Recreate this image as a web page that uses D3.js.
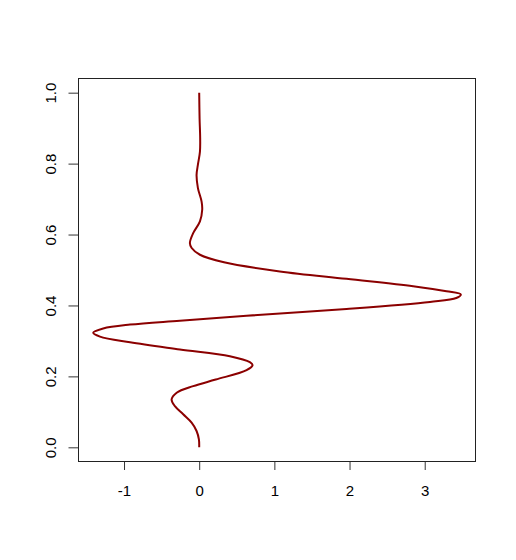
<!DOCTYPE html>
<html>
<head>
<meta charset="utf-8">
<script src="https://cdn.jsdelivr.net/npm/d3@7"></script>
<style>
  body { margin: 0; background: #fff; }
</style>
</head>
<body>
<div id="chart"></div>
<script>
// curve: x as a function of y
let yVals = [0, 0.0225, 0.046, 0.0695, 0.093, 0.116, 0.135, 0.154, 0.1725, 0.191, 0.2176,
             0.2317, 0.240, 0.257, 0.276, 0.296, 0.312, 0.323, 0.335, 0.346, 0.357,
             0.371, 0.390, 0.410, 0.421, 0.431, 0.440, 0.454, 0.475, 0.496, 0.522,
             0.543, 0.562, 0.576, 0.604, 0.637, 0.670, 0.693, 0.731, 0.768, 0.797,
             0.834, 0.872, 0.928, 1.0];
let xVals = [0, -0.004, -0.035, -0.101, -0.213, -0.323, -0.367, -0.30, -0.08, 0.22, 0.63,
             0.71, 0.674, 0.408, -0.257, -0.92, -1.32, -1.41, -1.277, -0.92, -0.257,
             0.63, 1.96, 3.07, 3.42, 3.48, 3.29, 2.846, 1.96, 1.073, 0.33,
             0.01, -0.10, -0.124, -0.08, 0.01, 0.040, 0.032, -0.017, -0.035, -0.017,
             0.01, 0.013, 0.005, 0];

let xTicks = [-1, 0, 1, 2, 3];
let yTicks = [0, 0.2, 0.4, 0.6, 0.8, 1.0];

let data = yVals.map(function (y, i) { return { x: xVals[i], y: y }; });

// plot region (names avoid window.top)
var width = 516, height = 560;
var plotL = 78.5, plotR = 475.5, plotT = 78.5, plotB = 461.5;
var labelFont = "'Liberation Sans', Arial, sans-serif";

var svg = d3.select("#chart")
    .append("svg")
    .attr("width", width)
    .attr("height", height);

// R style 4% padding around the data range
var xr = d3.extent(xVals), yr = d3.extent(yVals);
var xp = (xr[1] - xr[0]) * 0.04, yp = (yr[1] - yr[0]) * 0.04;

var x = d3.scaleLinear()
    .domain([xr[0] - xp, xr[1] + xp])
    .range([plotL, plotR]);

var y = d3.scaleLinear()
    .domain([yr[0] - yp, yr[1] + yp])
    .range([plotB, plotT]);

// X axis
var gx = svg.append("g")
    .attr("transform", "translate(0," + plotB + ")")
    .call(d3.axisBottom(x).tickValues(xTicks).tickSize(8.5).tickSizeOuter(0)
        .tickFormat(function (d) { return String(d); }))
    .attr("font-size", 15)
    .attr("font-family", labelFont);
gx.select(".domain")
    .attr("d", "M" + x(xTicks[0]) + ",0H" + x(xTicks[xTicks.length - 1]));
gx.selectAll("text")
    .attr("y", 29)
    .attr("dy", "0.35em")
    .attr("fill", "#000");

// Y axis, labels rotated like base R
var gy = svg.append("g")
    .attr("transform", "translate(" + plotL + ",0)")
    .call(d3.axisLeft(y).tickValues(yTicks).tickSize(10).tickSizeOuter(0)
        .tickFormat(function (d) { return d.toFixed(1); }))
    .attr("font-size", 15)
    .attr("font-family", labelFont);
gy.select(".domain")
    .attr("d", "M0," + y(yTicks[0]) + "V" + y(yTicks[yTicks.length - 1]));
gy.selectAll("text")
    .attr("transform", "rotate(-90)")
    .attr("x", 0)
    .attr("y", -28)
    .attr("dy", "0.35em")
    .attr("text-anchor", "middle")
    .attr("fill", "#000");

svg.selectAll(".tick line").attr("stroke", "#333");

// box
svg.append("rect")
    .attr("x", plotL)
    .attr("y", plotT)
    .attr("width", plotR - plotL)
    .attr("height", plotB - plotT)
    .attr("fill", "none")
    .attr("stroke", "#222")
    .attr("stroke-width", 1);

// the curve
var line = d3.line()
    .x(function (d) { return x(d.x); })
    .y(function (d) { return y(d.y); })
    .curve(d3.curveCatmullRom.alpha(0.5));

svg.append("path")
    .datum(data)
    .attr("d", line)
    .attr("fill", "none")
    .attr("stroke", "#8B0000")
    .attr("stroke-width", 2)
    .attr("stroke-linejoin", "round");
</script>
</body>
</html>
